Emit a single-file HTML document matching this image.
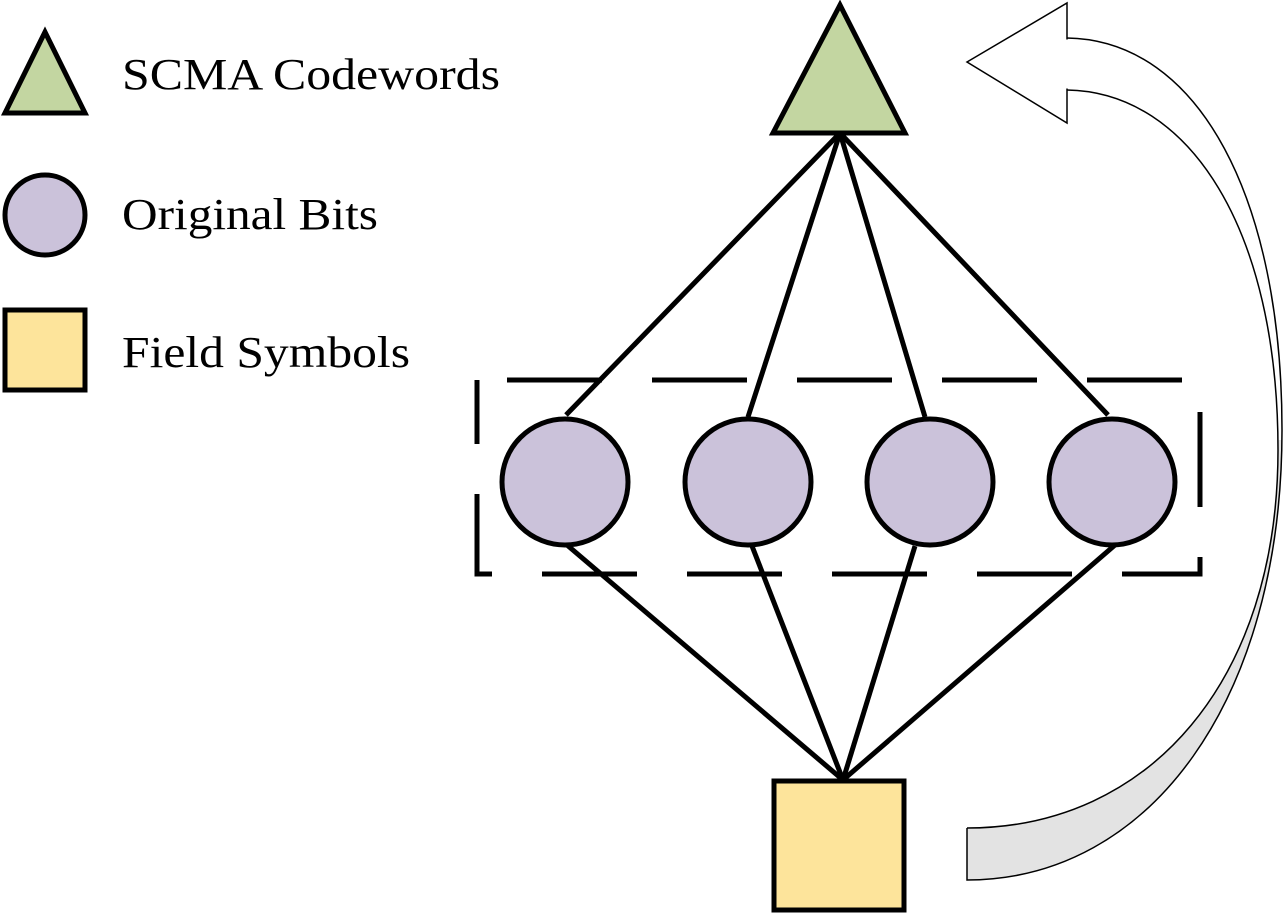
<!DOCTYPE html>
<html><head><style>body{margin:0;background:#fff}svg{display:block}</style></head><body>
<svg width="1285" height="915" viewBox="0 0 1285 915" xmlns="http://www.w3.org/2000/svg">
<defs><clipPath id="top"><rect x="0" y="0" width="1285" height="440"/></clipPath></defs>
<!-- curved arrow -->
<path d="M1067,38 C1200,40 1282,200 1282,430 C1282,700 1150,880 967,880 L967,828 C1150,828 1278,680 1278,450 C1278,230 1190,92 1067,90 Z" fill="#e3e3e3" stroke="none"/>
<path d="M1067,38 C1200,40 1282,200 1282,430 L1282,440 L1278,440 L1278,450 C1278,230 1190,92 1067,90 Z" fill="#fff" stroke="none" clip-path="url(#top)"/>
<path d="M1067,38 C1200,40 1282,200 1282,430 C1282,700 1150,880 967,880 L967,828" fill="none" stroke="#000" stroke-width="1.5"/>
<path d="M1067,90 C1190,92 1278,230 1278,450 C1278,680 1150,828 967,828" fill="none" stroke="#000" stroke-width="1.5"/>
<polygon points="967,62 1067,3 1067,38 1067,90 1067,123" fill="#fff" stroke="#000" stroke-width="1.5"/>
<line x1="1067" y1="39.5" x2="1067" y2="88.5" stroke="#fff" stroke-width="3"/>
<!-- dashed box -->
<rect x="477" y="380" width="723" height="194" fill="none" stroke="#000" stroke-width="5" stroke-dasharray="95,50" stroke-dashoffset="-30"/>
<!-- lines -->
<g stroke="#000" stroke-width="5" fill="none">
<line x1="840" y1="133" x2="566" y2="415"/>
<line x1="840" y1="133" x2="748" y2="417"/>
<line x1="840" y1="133" x2="925" y2="417"/>
<line x1="840" y1="133" x2="1108" y2="415"/>
<line x1="567" y1="545" x2="843" y2="780"/>
<line x1="752" y1="546" x2="843" y2="780"/>
<line x1="915" y1="546" x2="843" y2="780"/>
<line x1="1115" y1="545" x2="843" y2="780"/>
</g>
<g fill="#cbc2da" stroke="#000" stroke-width="5">
<ellipse cx="565" cy="482" rx="63" ry="63"/>
<ellipse cx="748" cy="482" rx="63" ry="63"/>
<ellipse cx="930" cy="482" rx="63" ry="63"/>
<ellipse cx="1112" cy="482" rx="63" ry="63"/>
</g>
<polygon points="840,5 773,133 905,133" fill="#c3d6a1" stroke="#000" stroke-width="5" stroke-linejoin="miter"/>
<rect x="774" y="781" width="130" height="129" fill="#fde49b" stroke="#000" stroke-width="5"/>
<!-- legend -->
<polygon points="45,32 5,113 85,113" fill="#c3d6a1" stroke="#000" stroke-width="5"/>
<circle cx="45" cy="215" r="40" fill="#cbc2da" stroke="#000" stroke-width="5"/>
<rect x="5" y="310" width="80" height="80" fill="#fde49b" stroke="#000" stroke-width="5"/>
<g font-family="Liberation Serif, serif" font-size="44" fill="#000">
<text x="122" y="89" textLength="378" lengthAdjust="spacingAndGlyphs">SCMA Codewords</text>
<text x="122" y="229" textLength="256" lengthAdjust="spacingAndGlyphs">Original Bits</text>
<text x="122" y="367" textLength="288" lengthAdjust="spacingAndGlyphs">Field Symbols</text>
</g>
</svg>
</body></html>
